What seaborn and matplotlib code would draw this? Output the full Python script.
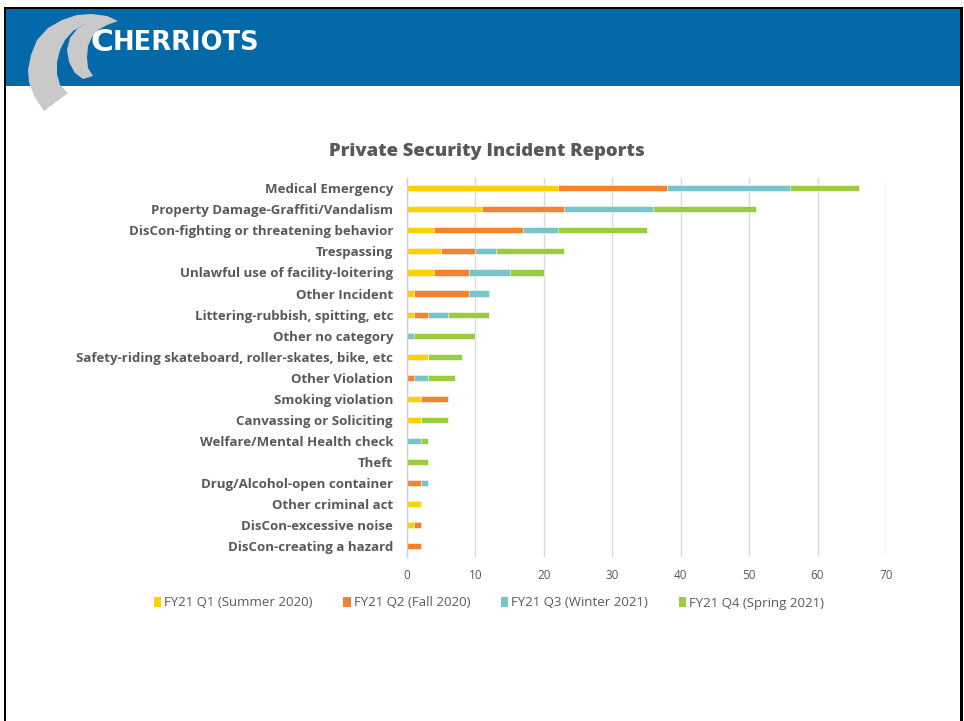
import numpy as np
import pandas as pd
import matplotlib
matplotlib.use("Agg")
import matplotlib.pyplot as plt
from matplotlib.patches import Polygon, Rectangle, Patch
import seaborn as sns

# ---- data -------------------------------------------------------------
categories = [
    "Medical Emergency",
    "Property Damage-Graffiti/Vandalism",
    "DisCon-fighting or threatening behavior",
    "Trespassing",
    "Unlawful use of facility-loitering",
    "Other Incident",
    "Littering-rubbish, spitting, etc",
    "Other no category",
    "Safety-riding skateboard, roller-skates, bike, etc",
    "Other Violation",
    "Smoking violation",
    "Canvassing or Soliciting",
    "Welfare/Mental Health check",
    "Theft",
    "Drug/Alcohol-open container",
    "Other criminal act",
    "DisCon-excessive noise",
    "DisCon-creating a hazard",
]
q1_summer = [22, 11, 4, 5, 4, 1, 1, 0, 3, 0, 2, 2, 0, 0, 0, 2, 1, 0]
q2_fall = [16, 12, 13, 5, 5, 8, 2, 0, 0, 1, 4, 0, 0, 0, 2, 0, 1, 2]
q3_winter = [18, 13, 5, 3, 6, 3, 3, 1, 0, 2, 0, 0, 2, 0, 1, 0, 0, 0]
q4_spring = [10, 15, 13, 10, 5, 0, 6, 9, 5, 4, 0, 4, 1, 3, 0, 0, 0, 0]
series_names = [
    "FY21 Q1 (Summer 2020)",
    "FY21 Q2 (Fall 2020)",
    "FY21 Q3 (Winter 2021)",
    "FY21 Q4 (Spring 2021)",
]
x_ticks = [0, 10, 20, 30, 40, 50, 60, 70]

colors = ["#FDD104", "#F5822E", "#78C4CB", "#9CCB42"]
text_gray = "#595959"
grid_gray = "#D9D9D9"

W, H = 964, 721
fig = plt.figure(figsize=(W / 100, H / 100), dpi=100)
fig.patch.set_facecolor("white")

# ---- header band, frame and logo (pixel coordinates) ------------------
deco = fig.add_axes([0, 0, 1, 1])
deco.set_xlim(0, W)
deco.set_ylim(H, 0)
deco.axis("off")
deco.set_zorder(0)

deco.add_patch(Rectangle((6, 9), 954, 77, facecolor="#0369A8", edgecolor="none"))
deco.add_patch(Rectangle((3.5, 6.5), 2.5, H, facecolor="black", edgecolor="none"))
deco.add_patch(Rectangle((3.5, 6.5), 959.5, 2.5, facecolor="black", edgecolor="none"))
deco.add_patch(Rectangle((960, 6.5), 3, H, facecolor="black", edgecolor="none"))

swoosh_big = [
    (44, 111), (34, 96), (29, 82), (28, 70), (31, 55), (37, 40), (48, 28),
    (62, 20), (77, 15), (92, 14), (107, 16), (118, 21),
    (100, 20), (85, 24), (73, 31), (65, 40), (60, 50), (57, 62), (57, 74),
    (60, 85), (68, 93),
]
swoosh_small = [
    (83, 79), (75, 73), (69, 62), (67, 50), (70, 38), (77, 29), (88, 22),
    (102, 18), (118, 21),
    (107, 25), (98, 30), (92, 37), (88, 46), (87, 58), (88, 68), (93, 76),
]
for pts in (swoosh_big, swoosh_small):
    deco.add_patch(Polygon(pts, closed=True, facecolor="#C9C9C9", edgecolor="none"))

deco.text(90, 51, "C", color="white", fontsize=22.5, fontweight="bold",
          family="DejaVu Sans", ha="left", va="baseline")
deco.text(113, 50, "HERRIOTS", color="white", fontsize=18.5, fontweight="bold",
          family="DejaVu Sans", ha="left", va="baseline")

# ---- chart -------------------------------------------------------------
sns.set_style("white")
plt.rcParams["font.family"] = ["Open Sans", "DejaVu Sans"]

left, right, top, bottom = 407, 886, 177.7, 556.7
ax = fig.add_axes([left / W, 1 - bottom / H, (right - left) / W, (bottom - top) / H])
ax.set_zorder(1)
ax.patch.set_alpha(0)

quarters = [q1_summer, q2_fall, q3_winter, q4_spring]
df = pd.DataFrame({"category": categories})
running = np.zeros(len(categories))
for name, vals in zip(series_names, quarters):
    running = running + np.array(vals)
    df[name] = running.copy()

# stacked bars: cumulative totals drawn back-to-front
for name, col in reversed(list(zip(series_names, colors))):
    sns.barplot(data=df, x=name, y="category", order=categories, orient="h",
                color=col, saturation=1, width=0.29, errorbar=None,
                edgecolor="white", linewidth=0.4, ax=ax)

ax.set_xlim(0, 70)
ax.set_ylim(len(categories) - 0.5, -0.5)
ax.set_xlabel("")
ax.set_ylabel("")
ax.set_xticks(x_ticks)
ax.set_xticklabels([str(t) for t in x_ticks], fontsize=8.5, color=text_gray)
ax.set_yticks(range(len(categories)))
ax.set_yticklabels(categories, fontsize=9.5, fontweight="bold", color=text_gray)
ax.tick_params(axis="x", length=0, pad=9)
ax.tick_params(axis="y", length=0, pad=10)
ax.xaxis.grid(True, color=grid_gray, linewidth=1)
ax.yaxis.grid(False)
ax.set_axisbelow(True)
for s in ("top", "right", "bottom"):
    ax.spines[s].set_visible(False)
ax.spines["left"].set_color("#D0D0D0")
ax.spines["left"].set_linewidth(1)

fig.text(487 / W, 1 - 151 / H, "Private Security Incident Reports",
         ha="center", va="center", fontsize=13.3, fontweight=800, color=text_gray)

handles = [Patch(facecolor=c, edgecolor="none") for c in colors]
leg = fig.legend(handles, series_names, loc="center",
                 bbox_to_anchor=(489 / W, 1 - 603 / H), ncol=4, frameon=False,
                 fontsize=9.5, handlelength=0.55, handleheight=0.8,
                 handletextpad=0.25, columnspacing=2.3)
for t in leg.get_texts():
    t.set_color(text_gray)

fig.savefig("out.png", dpi=100, facecolor="white")
